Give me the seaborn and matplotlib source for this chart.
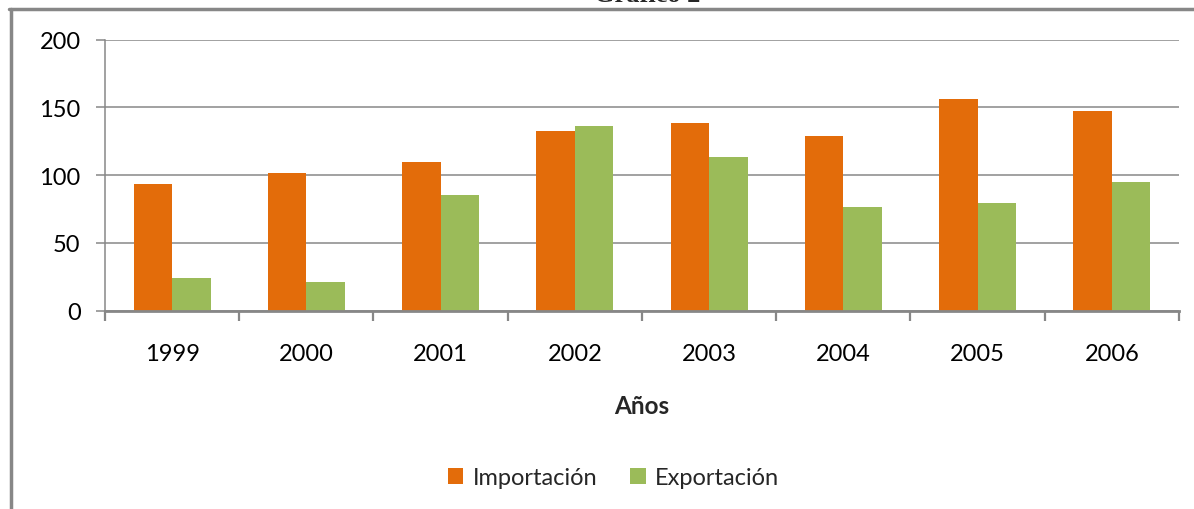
import matplotlib
matplotlib.use("Agg")
import matplotlib.pyplot as plt
import seaborn as sns
import pandas as pd
import numpy as np
from matplotlib.lines import Line2D
from matplotlib.patches import Patch

sns.set_theme(style="white")
plt.rcParams['font.family'] = ['Lato', 'DejaVu Sans']

years = ["1999", "2000", "2001", "2002", "2003", "2004", "2005", "2006"]
importacion = [93.5, 101.4, 109.7, 132.6, 138.5, 128.9, 156.2, 147.4]
exportacion = [24.1, 21.4, 85.4, 136.3, 113.4, 76.5, 79.5, 95.0]
series = ["Importación", "Exportación"]
colors = ["#E36C0A", "#9BBB59"]

df = pd.DataFrame({
    "Año": years * 2,
    "Valor": importacion + exportacion,
    "Serie": [series[0]] * len(years) + [series[1]] * len(years),
})

grey = "#878787"

fig = plt.figure(figsize=(11.94, 5.10), dpi=100)
ax = fig.add_axes([0.0879, 0.3888, 0.8995, 0.5314])

sns.barplot(data=df, x="Año", y="Valor", hue="Serie", palette=colors,
            width=0.574, gap=0, saturation=1, linewidth=0, ax=ax, legend=False)

ax.set_ylim(0, 200)
ax.set_xlim(-0.5, len(years) - 0.5)
ax.set_yticks([0, 50, 100, 150, 200])
ax.yaxis.grid(True, color=grey, linewidth=1.1)
ax.set_axisbelow(True)

for side in ["top", "right"]:
    ax.spines[side].set_visible(False)
ax.spines["left"].set_color(grey)
ax.spines["left"].set_linewidth(1.1)
ax.spines["bottom"].set_color(grey)
ax.spines["bottom"].set_linewidth(2)

ax.tick_params(axis="y", length=6.5, width=1.1, color=grey, pad=11,
               labelsize=17, labelcolor="black", left=True)
ax.tick_params(axis="x", which="major", length=0, pad=23,
               labelsize=17, labelcolor="black")
ax.set_xticks(np.arange(-0.5, len(years) + 0.5, 1), minor=True)
ax.tick_params(axis="x", which="minor", length=7.5, width=1.6, color=grey,
               bottom=True)

ax.set_ylabel("")
ax.set_xlabel("Años", fontsize=17.5, fontweight="bold", labelpad=22)

handles = [Patch(facecolor=c, edgecolor="none") for c in colors]
fig.legend(handles, series, loc="center", bbox_to_anchor=(613.5 / 1194, 1 - 479 / 510),
           ncol=2, frameon=False, fontsize=17, handlelength=0.65, handleheight=0.65,
           handletextpad=0.4, columnspacing=1.4)

# chart frame (cut off at right/bottom)
fig.add_artist(Line2D([10.5 / 1194, 10.5 / 1194], [0, 1 - 10 / 510],
                      transform=fig.transFigure, color=grey, linewidth=2.5))
fig.add_artist(Line2D([9 / 1194, 1], [1 - 10 / 510, 1 - 10 / 510],
                      transform=fig.transFigure, color=grey, linewidth=2.5))

fig.text(647 / 1194, 1 - 2 / 510, "Gráfico 2", ha="center", va="baseline",
         family="Liberation Serif", fontweight="bold", fontsize=19)

fig.savefig("out.png", dpi=100)
